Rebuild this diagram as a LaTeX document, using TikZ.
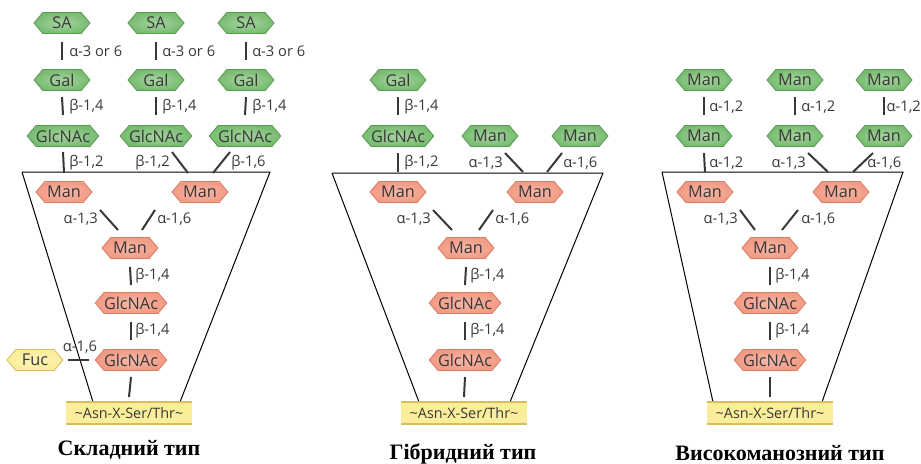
\documentclass[tikz,border=0pt]{standalone}
\usepackage{fontspec}
\setmainfont{Open Sans}
\newfontfamily\capfont{Liberation Serif}
\usetikzlibrary{shapes.symbols,calc}
\definecolor{gfill}{HTML}{78BC70}
\definecolor{gdraw}{HTML}{589855}
\definecolor{sfill}{HTML}{F29A84}
\definecolor{sdraw}{HTML}{D67E68}
\definecolor{yfill}{HTML}{FAEE9A}
\definecolor{ydraw}{HTML}{D6BE60}
\definecolor{txt}{HTML}{383838}
\tikzset{
  hex/.style={shape=signal, signal to=west and east, signal pointer angle=100,
    minimum height=15.75pt, minimum width=42pt, inner xsep=0pt, inner ysep=0pt,
    line width=0.6pt, font=\fontsize{12.2}{14}\selectfont, text=txt},
  green/.style={hex, draw=gdraw, inner color=gfill!65!white, outer color=gfill},
  salmon/.style={hex, draw=sdraw, inner color=sfill!70!white, outer color=sfill},
  fuc/.style={hex, draw=ydraw, inner color=yfill!70!white, outer color=yfill},
  bond/.style={draw=txt, line width=1.5pt},
  lbl/.style={font=\fontsize{11}{13}\selectfont, text=txt, inner sep=0pt},
  trap/.style={draw=black, line width=0.75pt},
  asnbox/.style={fill=yfill, minimum width=94.5pt, minimum height=16pt, inner sep=0pt,
    font=\fontsize{10.8}{12}\selectfont, text=txt},
  captxt/.style={font=\capfont\bfseries\fontsize{16.5}{20}\selectfont, text=black},
}
\begin{document}
\begin{tikzpicture}[x=0.75pt,y=-0.75pt]
\useasboundingbox (0,0) rectangle (921,464);

% ================= trapezoids =================
\draw[trap] (22,172) -- (270,172) -- (180,402);
\draw[trap] (22,172) -- (93,402);
\draw[trap] (332,173) -- (603,173) -- (510,402);
\draw[trap] (332,173) -- (419,402);
\draw[trap] (662,172) -- (903,172) -- (822,402);
\draw[trap] (662,172) -- (713,402);

% ================= panel 1: complex =================
\node[green] (a1) at (62,23) {SA};
\node[green] (a2) at (156,23) {SA};
\node[green] (a3) at (246,23) {SA};
\node[green] (b1) at (62,80) {Gal};
\node[green] (b2) at (156,80) {Gal};
\node[green] (b3) at (246,80) {Gal};
\node[green] (c1) at (63,136) {GlcNAc};
\node[green] (c2) at (156,136) {GlcNAc};
\node[green] (c3) at (245,136) {GlcNAc};
\node[salmon] (m1) at (64,192) {Man};
\node[salmon] (m2) at (200,192) {Man};
\node[salmon] (mc) at (130,248) {Man};
\node[salmon] (g1) at (131,303) {GlcNAc};
\node[salmon] (g2) at (131,360) {GlcNAc};
\node[fuc] (fu) at (35,360) {Fuc};
\node[asnbox] (s1) at (129,413) {\textasciitilde Asn-X-Ser/Thr\textasciitilde};
\draw[ydraw, line width=1.4pt] (s1.north west) -- (s1.north east);
\draw[ydraw, line width=1.4pt] (s1.south west) -- (s1.south east);

\foreach \u/\v in {a1/b1,a2/b2,a3/b3}
  \draw[bond] ($(\u)+(0,19)$) -- ($(\v)+(0,-20)$);
\foreach \u/\v in {b1/c1,b2/c2,b3/c3}
  \draw[bond] ($(\u)+(0,17)$) -- ($(\v)+(0,-21)$);
\draw[bond] ($(c1)+(0,16)$) -- ($(m1)+(0,-19)$);
\draw[bond] ($(c2)+(16,16)$) -- ($(m2)+(-12,-19)$);
\draw[bond] ($(c3)+(-15,16)$) -- ($(m2)+(13,-19)$);
\draw[bond] ($(m1)+(36,18)$) -- ($(mc)+(-12,-18)$);
\draw[bond] ($(m2)+(-45,18)$) -- ($(mc)+(12,-18)$);
\draw[bond] ($(mc)+(0,19)$) -- ($(g1)+(0,-18)$);
\draw[bond] ($(g1)+(0,19)$) -- ($(g2)+(0,-20)$);
\draw[bond] ($(g2)+(0,17)$) -- ($(s1)+(0,-16)$);
\draw[bond] ($(fu)+(33,0)$) -- ($(g2)+(-42,0)$);

\node[lbl, anchor=west] at (69,51) {α-3 or 6};
\node[lbl, anchor=west] at (162,51) {α-3 or 6};
\node[lbl, anchor=west] at (252,51) {α-3 or 6};
\node[lbl, anchor=west] at (69,107) {β-1,4};
\node[lbl, anchor=west] at (162,107) {β-1,4};
\node[lbl, anchor=west] at (252,107) {β-1,4};
\node[lbl, anchor=west] at (69,163) {β-1,2};
\node[lbl, anchor=east] at (170,163) {β-1,2};
\node[lbl, anchor=west] at (231,163) {β-1,6};
\node[lbl, anchor=east] at (98,219) {α-1,3};
\node[lbl, anchor=west] at (157,219) {α-1,6};
\node[lbl, anchor=west] at (135,276) {β-1,4};
\node[lbl, anchor=west] at (135,331) {β-1,4};
\node[lbl] at (80,347) {α-1,6};
\node[captxt] at (129,450) {Складний тип};

% ================= panel 2: hybrid =================
\node[green] (hb) at (398,80) {Gal};
\node[green] (hc) at (398,136) {GlcNAc};
\node[green] (hx) at (490,136) {Man};
\node[green] (hy) at (580,136) {Man};
\node[salmon] (hm1) at (398,192) {Man};
\node[salmon] (hm2) at (535,192) {Man};
\node[salmon] (hmc) at (466,248) {Man};
\node[salmon] (hg1) at (465,303) {GlcNAc};
\node[salmon] (hg2) at (465,360) {GlcNAc};
\node[asnbox] (s2) at (464,413) {\textasciitilde Asn-X-Ser/Thr\textasciitilde};
\draw[ydraw, line width=1.4pt] (s2.north west) -- (s2.north east);
\draw[ydraw, line width=1.4pt] (s2.south west) -- (s2.south east);

\draw[bond] ($(hb)+(0,17)$) -- ($(hc)+(0,-21)$);
\draw[bond] ($(hc)+(0,17)$) -- ($(hm1)+(0,-20)$);
\draw[bond] ($(hx)+(15,17)$) -- ($(hm2)+(-12,-20)$);
\draw[bond] ($(hy)+(-18,17)$) -- ($(hm2)+(12,-20)$);
\draw[bond] ($(hm1)+(35,18)$) -- ($(hmc)+(-14,-18)$);
\draw[bond] ($(hm2)+(-42,18)$) -- ($(hmc)+(13,-18)$);
\draw[bond] ($(hmc)+(0,19)$) -- ($(hg1)+(0,-18)$);
\draw[bond] ($(hg1)+(0,19)$) -- ($(hg2)+(0,-20)$);
\draw[bond] ($(hg2)+(0,17)$) -- ($(s2)+(0,-16)$);

\node[lbl, anchor=west] at (404,107) {β-1,4};
\node[lbl, anchor=west] at (404,163) {β-1,2};
\node[lbl, anchor=east] at (503,163) {α-1,3};
\node[lbl, anchor=west] at (563,163) {α-1,6};
\node[lbl, anchor=east] at (431,219) {α-1,3};
\node[lbl, anchor=west] at (495,219) {α-1,6};
\node[lbl, anchor=west] at (470,276) {β-1,4};
\node[lbl, anchor=west] at (470,331) {β-1,4};
\node[captxt] at (463,454) {Гібридний тип};

% ================= panel 3: high-mannose =================
\node[green] (r1) at (704,80) {Man};
\node[green] (r2) at (795,80) {Man};
\node[green] (r3) at (884,80) {Man};
\node[green] (q1) at (704,136) {Man};
\node[green] (q2) at (795,136) {Man};
\node[green] (q3) at (884,136) {Man};
\node[salmon] (rm1) at (705,192) {Man};
\node[salmon] (rm2) at (841,192) {Man};
\node[salmon] (rmc) at (770,248) {Man};
\node[salmon] (rg1) at (770,303) {GlcNAc};
\node[salmon] (rg2) at (770,360) {GlcNAc};
\node[asnbox] (s3) at (770,413) {\textasciitilde Asn-X-Ser/Thr\textasciitilde};
\draw[ydraw, line width=1.4pt] (s3.north west) -- (s3.north east);
\draw[ydraw, line width=1.4pt] (s3.south west) -- (s3.south east);

\foreach \u/\v in {r1/q1,r2/q2,r3/q3}
  \draw[bond] ($(\u)+(0,17)$) -- ($(\v)+(0,-21)$);
\draw[bond] ($(q1)+(0,17)$) -- ($(rm1)+(0,-20)$);
\draw[bond] ($(q2)+(13,17)$) -- ($(rm2)+(-13,-20)$);
\draw[bond] ($(q3)+(-11,17)$) -- ($(rm2)+(12,-20)$);
\draw[bond] ($(rm1)+(35,18)$) -- ($(rmc)+(-15,-18)$);
\draw[bond] ($(rm2)+(-43,18)$) -- ($(rmc)+(12,-18)$);
\draw[bond] ($(rmc)+(0,19)$) -- ($(rg1)+(0,-18)$);
\draw[bond] ($(rg1)+(0,19)$) -- ($(rg2)+(0,-20)$);
\draw[bond] ($(rg2)+(0,17)$) -- ($(s3)+(0,-16)$);

\node[lbl, anchor=west] at (709,107) {α-1,2};
\node[lbl, anchor=west] at (801,107) {α-1,2};
\node[lbl, anchor=east] at (921,107) {α-1,2};
\node[lbl, anchor=west] at (709,163) {α-1,2};
\node[lbl, anchor=east] at (806,163) {α-1,3};
\node[lbl, anchor=west] at (867,163) {α-1,6};
\node[lbl, anchor=east] at (738,219) {α-1,3};
\node[lbl, anchor=west] at (801,219) {α-1,6};
\node[lbl, anchor=west] at (775,276) {β-1,4};
\node[lbl, anchor=west] at (775,331) {β-1,4};
\node[captxt] at (780,453) {Високоманозний тип};
\end{tikzpicture}
\end{document}
